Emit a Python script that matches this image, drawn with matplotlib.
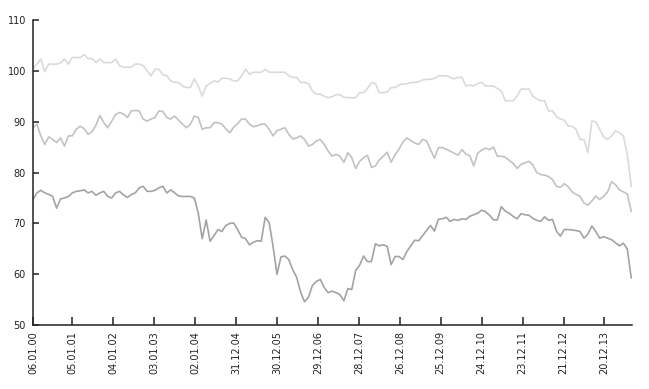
import numpy as np
import matplotlib
import matplotlib.pyplot as plt

matplotlib.use('Agg')

# sampled every 5 weeks, starting 06.01.00
step_weeks = 5

top = [
    100.5, 101.3, 102.3, 99.8, 101.3, 101.3, 101.3, 101.5, 102.3, 101.3,
    102.6, 102.6, 102.6, 103.2, 102.4, 102.4, 101.6, 102.3, 101.6, 101.6,
    101.6, 102.3, 101.0, 100.7, 100.7, 100.7, 101.3, 101.3, 101.0, 100.0,
    99.0, 100.3, 100.3, 99.2, 99.0, 98.0, 97.7, 97.7, 97.0, 96.7,
    96.7, 98.4, 97.0, 95.0, 97.0, 97.5, 98.0, 97.8, 98.5, 98.5,
    98.4, 98.0, 98.0, 99.0, 100.3, 99.3, 99.7, 99.7, 99.7, 100.3,
    99.7, 99.7, 99.7, 99.7, 99.7, 99.0, 98.7, 98.7, 97.7, 97.7,
    97.5, 96.0, 95.4, 95.4, 95.0, 94.7, 94.9, 95.3, 95.3, 94.8,
    94.7, 94.7, 94.7, 95.7, 95.7, 96.5, 97.7, 97.5, 95.7, 95.7,
    95.8, 96.7, 96.7, 97.2, 97.4, 97.4, 97.7, 97.7, 97.8, 98.2,
    98.3, 98.3, 98.5, 99.0, 99.0, 99.0, 98.7, 98.4, 98.7, 98.7,
    97.0, 97.2, 97.0, 97.5, 97.7, 97.0, 97.0, 97.0, 96.5, 96.0,
    94.1, 94.1, 94.1, 95.0, 96.4, 96.4, 96.4, 95.0, 94.5, 94.1,
    94.1, 92.1, 92.1, 91.0, 90.5, 90.3, 89.1, 89.1, 88.5, 86.5,
    86.5, 83.9, 90.1, 90.0, 88.5, 87.0, 86.5, 87.2, 88.2, 87.8,
    87.2, 83.6, 77.3]

mid = [
    88.8, 89.5, 87.2, 85.5, 87.0, 86.5, 85.9, 86.8, 85.2, 87.2,
    87.2, 88.5, 89.1, 88.6, 87.5, 88.0, 89.3, 91.2, 89.8, 88.8,
    90.1, 91.4, 91.8, 91.5, 90.8, 92.1, 92.2, 92.1, 90.5, 90.1,
    90.5, 90.8, 92.1, 92.0, 90.8, 90.5, 91.1, 90.3, 89.5, 88.8,
    89.5, 91.1, 90.8, 88.5, 88.8, 88.8, 89.8, 89.8, 89.5, 88.6,
    87.8, 88.9, 89.6, 90.5, 90.5, 89.5, 89.0, 89.2, 89.5, 89.5,
    88.5, 87.2, 88.2, 88.5, 88.8, 87.5, 86.6, 86.8, 87.2, 86.5,
    85.2, 85.5, 86.2, 86.5, 85.5, 84.2, 83.2, 83.6, 83.2, 82.0,
    83.9, 82.9, 80.8, 82.2, 82.9, 83.4, 81.0, 81.3, 82.5, 83.2,
    84.0, 82.0, 83.5, 84.6, 86.0, 86.8, 86.3, 85.8, 85.5, 86.5,
    86.2, 84.5, 82.8, 84.9, 84.9, 84.6, 84.2, 83.8, 83.4, 84.5,
    83.6, 83.3, 81.3, 83.8, 84.4, 84.8, 84.5, 85.0, 83.2, 83.2,
    83.0, 82.4, 81.8, 80.8, 81.6, 81.9, 82.2, 81.5, 80.0, 79.6,
    79.5, 79.2, 78.6, 77.3, 77.1, 77.8, 77.2, 76.2, 75.7, 75.3,
    74.0, 73.6, 74.4, 75.4, 74.7, 75.3, 76.2, 78.2, 77.6, 76.6,
    76.2, 75.8, 72.4]

bot = [
    74.7, 76.0, 76.5, 76.0, 75.7, 75.3, 73.0, 74.8, 75.0, 75.3,
    76.0, 76.3, 76.4, 76.6, 76.0, 76.3, 75.5, 76.0, 76.3, 75.3,
    75.0, 76.0, 76.3, 75.6, 75.1, 75.7, 76.0, 77.0, 77.3, 76.3,
    76.3, 76.5, 77.0, 77.3, 76.0, 76.6, 76.0, 75.4, 75.3, 75.3,
    75.3, 75.0, 72.0, 67.0, 70.7, 66.5, 67.6, 68.8, 68.4, 69.6,
    70.0, 70.1, 68.8, 67.3, 67.0, 65.8, 66.3, 66.6, 66.5, 71.2,
    70.2, 65.5, 60.0, 63.4, 63.6, 62.9, 60.9, 59.4, 56.5, 54.6,
    55.5, 57.8, 58.6, 59.0, 57.4, 56.4, 56.7, 56.4, 56.0, 54.8,
    57.2, 57.0, 60.8, 61.8, 63.6, 62.5, 62.5, 66.0, 65.6, 65.8,
    65.5, 61.9, 63.5, 63.5, 62.9, 64.5, 65.6, 66.7, 66.6, 67.6,
    68.6, 69.6, 68.5, 70.8, 70.9, 71.2, 70.4, 70.8, 70.6, 70.9,
    70.8, 71.4, 71.7, 72.0, 72.6, 72.3, 71.6, 70.7, 70.7, 73.3,
    72.4, 72.0, 71.4, 70.9, 71.9, 71.7, 71.6, 71.0, 70.6, 70.4,
    71.3, 70.6, 70.8, 68.5, 67.5, 68.8, 68.8, 68.7, 68.6, 68.4,
    67.1, 67.9, 69.5, 68.4, 67.1, 67.4, 67.1, 66.8, 66.2, 65.6,
    66.1, 65.0, 59.3]

# x tick positions (weeks since start) and labels
tick_weeks = [0, 50, 102, 154, 206, 258, 310, 362, 414, 466, 518, 570, 622, 674, 726]
tick_labels = ["06.01.00", "05.01.01", "04.01.02", "03.01.03", "02.01.04",
               "31.12.04", "30.12.05", "29.12.06", "28.12.07", "26.12.08",
               "25.12.09", "24.12.10", "23.12.11", "21.12.12", "20.12.13"]
y_ticks = [50, 60, 70, 80, 90, 100, 110]

weeks = np.arange(len(top)) * step_weeks

fig = plt.figure(figsize=(6.49, 3.89), dpi=100)
ax = fig.add_axes([0.0508, 0.164, 0.923, 0.785])

ax.plot(weeks, top, color='#dadada', lw=1.2)
ax.plot(weeks, mid, color='#c2c2c4', lw=1.2)
ax.plot(weeks, bot, color='#a3a3a6', lw=1.2)

ax.set_xlim(0, 761)
ax.set_ylim(50, 110)
ax.set_yticks(y_ticks)
ax.set_yticklabels([str(v) for v in y_ticks], fontsize=7)
ax.set_xticks(tick_weeks)
ax.set_xticklabels(tick_labels, rotation=90, fontsize=7, ha='center', va='top')

for s in ['top', 'right']:
    ax.spines[s].set_visible(False)
for s in ['left', 'bottom']:
    ax.spines[s].set_linewidth(1.1)
    ax.spines[s].set_color('#222222')

ax.tick_params(axis='y', direction='in', length=4.5, width=1.1, pad=5, colors='#222222')
ax.tick_params(axis='x', direction='in', length=6, width=1.1, pad=4, colors='#222222')

plt.savefig('out.png', dpi=100)
plt.close()
